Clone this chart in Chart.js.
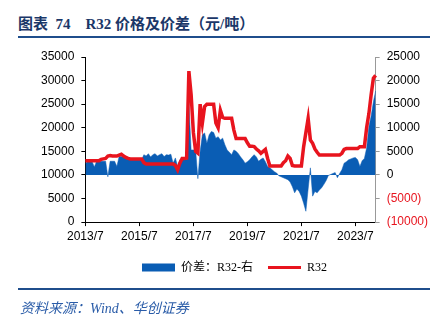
<!DOCTYPE html>
<html>
<head>
<meta charset="utf-8">
<script src="https://cdn.jsdelivr.net/npm/chart.js@4"></script>
<style>
    body { margin: 0; background: #fff; }
    #wrap { position: relative; width: 443px; height: 331px; overflow: hidden; }
    .title {
        position: absolute; left: 18px; top: 12px; line-height: 20px;
        font: bold 15px "Liberation Serif", "Noto Sans CJK SC", serif;
        color: #1b3768; white-space: pre;
    }
    .rule { position: absolute; left: 18px; width: 412px; background: #1f4e8c; }
    .source {
        position: absolute; left: 20px; top: 297px; line-height: 20px;
        font: italic 14px "Liberation Serif", "Noto Sans CJK SC", serif;
        color: #2a5ca8;
    }
    #chartBox { position: absolute; left: 0; top: 40px; width: 443px; height: 250px; }
</style>
</head>
<body>
<div id="wrap">
    <div class="title">图表  74    R32 价格及价差（元/吨）</div>
    <div class="rule" style="top:36px;height:2px"></div>
    <div id="chartBox"><canvas id="chart"></canvas></div>
    <div class="rule" style="top:288px;height:2px"></div>
    <div class="source">资料来源：Wind、华创证券</div>
</div>
<script>
// Données mensuelles, 2013/7 -> 2024/4
const startYear = 2013;
const startMonth = 7;
const monthCount = 130;

// R32 (元/吨, axe gauche)
const r32Values = [
    13000, 13000, 13000, 13000, 13000, 13000, 13000, 13300, 13400, 13500,
    14000, 14100, 14000, 14000, 14000, 14200, 14400, 14000, 13700, 13500,
    13400, 13400, 13400, 13400, 13400, 13400, 12600, 12300, 12300, 12300,
    12300, 12300, 12300, 12300, 12300, 12300, 12300, 12300, 12300, 12300,
    12000, 11100, 12500, 13500, 13500, 13600, 32000, 27000, 19000, 15000,
    14600, 25000, 21000, 24500, 25000, 25000, 25000, 25000, 21000, 20000,
    23700, 22200, 22000, 22000, 22000, 22000, 19500, 17700, 17700, 17700,
    17700, 17700, 16800, 16100, 16100, 16000, 15500, 15100, 14600, 15000,
    15400, 13500, 11900, 11900, 11900, 11900, 11900, 11900, 12600, 13000,
    14000, 13500, 12000, 11900, 11900, 11900, 11900, 16000, 19000, 22000,
    17400, 16700, 15500, 14800, 14200, 14200, 14200, 14200, 14200, 14200,
    14200, 14200, 14200, 14200, 14600, 15400, 15600, 15600, 15600, 15600,
    15600, 15600, 16000, 16000, 16000, 20000, 23000, 27000, 30500, 31100
];

// 价差：R32 (元/吨, axe droit)
const spreadValues = [
    2500, 2800, 2800, 2800, 1700, 2900, 2900, 2900, 2900, 2900,
    -400, 2900, 2900, 2900, 1800, 3900, 3900, 3900, 3900, 3200,
    3200, 3200, 3200, 3200, 3200, 3200, 4300, 4000, 4500, 3800,
    4300, 4500, 4000, 4300, 4500, 3900, 4300, 4200, 4400, 2500,
    3600, 1800, 3200, 3200, 3200, 3200, 15200, 5300, 5300, 5300,
    -800, 5000, 8500, 8900, 6700, 8500, 9200, 9000, 7800, 8100,
    7400, 7800, 6400, 5300, 4800, 4300, 5300, 5000, 4500, 3800,
    3200, 2500, 2800, 3200, 3800, 4300, 3800, 2900, 3300, 3600,
    2800, 1800, 1500, 1100, 700, 400, -200, -400, -600, -800,
    -1000, -1500, -2500, -3800, -3000, -3500, -4500, -6000, -7700, -3000,
    1500, -4500, -3500, -3800, -3200, -2700, -2000, -1200, -100, 100,
    300, 500, -600, 300, 1100, 2500, 2800, 3200, 3400, 3600,
    3700, 3200, 1800, 3000, 3500, 5700, 10200, 12500, 15500, 17800
];

const leftTicks = { min: 0, max: 35000, step: 5000 };
const rightTicks = { min: -10000, max: 25000, step: 5000 };

const RED = '#e8141e';
const BLUE = '#0a5db4';

const labels = [];
for (let i = 0; i < monthCount; i++) {
    const m = (startMonth - 1 + i) % 12 + 1;
    const y = startYear + Math.floor((startMonth - 1 + i) / 12);
    labels.push(y + '/' + m);
}

const tickFont = { family: '"Liberation Sans", Arial, sans-serif', size: 12 };

new Chart(document.getElementById('chart'), {
    type: 'line',
    data: {
        labels: labels,
        datasets: [
            {
                label: 'R32',
                data: r32Values,
                yAxisID: 'y',
                borderColor: RED,
                borderWidth: 3.5,
                pointRadius: 0,
                tension: 0,
                fill: false
            },
            {
                label: '价差：R32-右',
                data: spreadValues,
                yAxisID: 'y1',
                borderColor: BLUE,
                backgroundColor: BLUE,
                borderWidth: 0.5,
                pointRadius: 0,
                tension: 0,
                fill: 'origin'
            }
        ]
    },
    options: {
        responsive: true,
        maintainAspectRatio: false,
        animation: false,
        layout: { padding: { left: 34, right: 8, top: 17, bottom: 6.5 } },
        plugins: {
            tooltip: { enabled: false },
            legend: {
                position: 'bottom',
                labels: {
                    usePointStyle: true,
                    pointStyleWidth: 33,
                    boxHeight: 8,
                    padding: 15,
                    color: '#000',
                    font: { family: '"Liberation Serif", "Noto Sans CJK SC", serif', size: 12 },
                    generateLabels: function() {
                        return [
                            { text: '价差：R32-右', fillStyle: BLUE, strokeStyle: BLUE, lineWidth: 0, pointStyle: 'rect', datasetIndex: 1, hidden: false },
                            { text: 'R32', fillStyle: RED, strokeStyle: RED, lineWidth: 3, pointStyle: 'line', datasetIndex: 0, hidden: false }
                        ];
                    }
                }
            }
        },
        scales: {
            x: {
                offset: false,
                grid: {
                    drawOnChartArea: false,
                    tickLength: 4,
                    color: function(ctx) { return ctx.index % 24 === 0 ? '#000' : 'rgba(0,0,0,0)'; }
                },
                border: { color: '#000' },
                ticks: {
                    autoSkip: false,
                    maxRotation: 0,
                    padding: 3,
                    color: '#000',
                    font: tickFont,
                    callback: function(val, i) { return i % 24 === 0 ? labels[i] : ''; }
                }
            },
            y: {
                position: 'left',
                min: leftTicks.min,
                max: leftTicks.max,
                grid: { drawOnChartArea: false, tickLength: 4, color: '#000' },
                border: { color: '#000' },
                ticks: {
                    stepSize: leftTicks.step,
                    padding: 7,
                    color: '#000',
                    font: tickFont,
                    callback: function(v) { return String(v); }
                }
            },
            y1: {
                position: 'right',
                min: rightTicks.min,
                max: rightTicks.max,
                grid: { drawOnChartArea: false, tickLength: 4, color: '#999' },
                border: { color: '#999' },
                ticks: {
                    stepSize: rightTicks.step,
                    padding: 7,
                    font: tickFont,
                    color: function(ctx) { return ctx.tick && ctx.tick.value < 0 ? RED : '#000'; },
                    callback: function(v) { return v < 0 ? '(' + Math.abs(v) + ')' : String(v); }
                }
            }
        }
    }
});
</script>
</body>
</html>
